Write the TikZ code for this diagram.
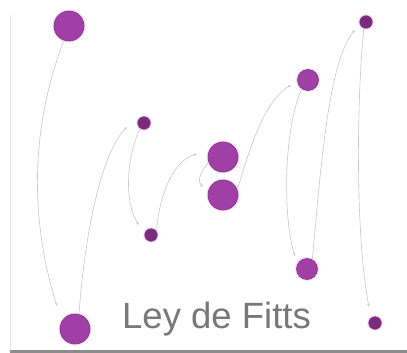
\documentclass[tikz,border=0pt]{standalone}
\usepackage{fontspec}
\setmainfont{Liberation Sans}
\usetikzlibrary{arrows.meta}
\definecolor{dotfill}{HTML}{A040A6}
\definecolor{dotedge}{HTML}{86308A}
\definecolor{dothalo}{HTML}{F6DDF6}
\definecolor{trail}{HTML}{C8C8C8}
\definecolor{labelgray}{HTML}{787878}
\tikzset{
  dot/.style={circle, inner sep=0pt, fill=dotfill, draw=dotedge, line width=0.6pt,
    preaction={draw=dothalo, line width=3pt}},
  bigdot/.style={dot, minimum size=30pt},
  middot/.style={dot, minimum size=21pt},
  smalldot/.style={dot, minimum size=12.5pt, fill=dotedge!90!black},
  trailarrow/.style={draw=trail, line width=0.6pt, -{Stealth[length=3.5pt,width=2.6pt]}}
}
\begin{document}
\begin{tikzpicture}[x=1pt,y=-1pt]
  \useasboundingbox (0,0) rectangle (407,353);
  \fill[white] (0,0) rectangle (407,353);
  % frame edges
  \draw[black!10, line width=0.8pt] (10,15) -- (10,349);
  \fill[black!45] (10,349.5) rectangle (407,353);

  % targets
  \node[bigdot]   (c1)  at (69,26)  {};
  \node[bigdot]   (c2)  at (75,329) {};
  \node[smalldot] (c3)  at (144,123) {};
  \node[smalldot] (c4)  at (151,235) {};
  \node[bigdot]   (c5)  at (223,157) {};
  \node[bigdot]   (c6)  at (223,195) {};
  \node[middot]   (c7)  at (308,80) {};
  \node[middot]   (c8)  at (307,269) {};
  \node[smalldot] (c9)  at (366,22) {};
  \node[smalldot] (c10) at (375,323) {};

  % arrow tips near each next target
  \coordinate (t2)  at (57,306);
  \coordinate (t3)  at (127,127);
  \coordinate (t4)  at (139,225);
  \coordinate (t5)  at (197,154);
  \coordinate (t6)  at (203,187);
  \coordinate (t7)  at (291,85);
  \coordinate (t8)  at (295,256);
  \coordinate (t9)  at (355,30);
  \coordinate (t10) at (369,307);

  % movement trails
  \draw[trailarrow] (c1.250) .. controls (30,130) and (30,220) .. (t2);
  \draw[trailarrow] (c2.75) .. controls (86,220) and (104,150) .. (t3);
  \draw[trailarrow] (c3.235) .. controls (125,160) and (125,205) .. (t4);
  \draw[trailarrow] (c4.35) .. controls (160,190) and (175,160) .. (t5);
  \draw[trailarrow] (c5.200) .. controls (198,175) and (198,182) .. (t6);
  \draw[trailarrow] (c6.20) .. controls (252,140) and (266,100) .. (t7);
  \draw[trailarrow] (c7.235) .. controls (283,130) and (283,220) .. (t8);
  \draw[trailarrow] (c8.60) .. controls (322,150) and (330,60) .. (t9);
  \draw[trailarrow] (c9.250) .. controls (356,110) and (356,240) .. (t10);

  \node[anchor=base west, inner sep=0pt, text=labelgray, font=\fontsize{36.5}{40}\selectfont]
    (title) at (122,328) {Ley de Fitts};
\end{tikzpicture}
\end{document}
